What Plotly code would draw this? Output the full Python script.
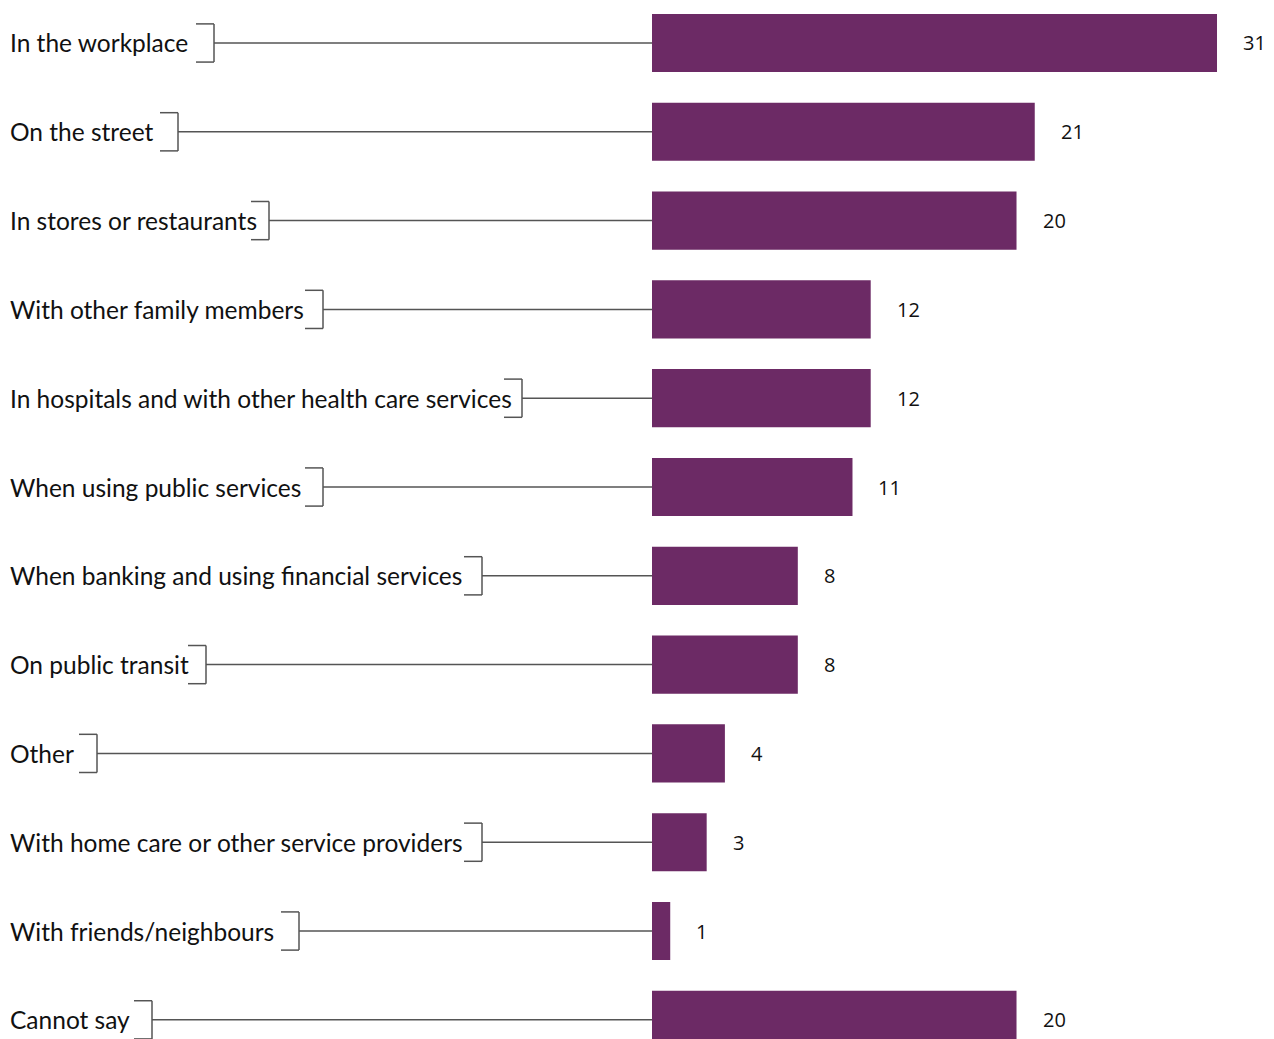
import plotly.graph_objects as go

categories = [
    "In the workplace",
    "On the street",
    "In stores or restaurants",
    "With other family members",
    "In hospitals and with other health care services",
    "When using public services",
    "When banking and using financial services",
    "On public transit",
    "Other",
    "With home care or other service providers",
    "With friends/neighbours",
    "Cannot say",
]
values = [31, 21, 20, 12, 12, 11, 8, 8, 4, 3, 1, 20]
value_labels = ["31", "21", "20", "12", "12", "11", "8", "8", "4", "3", "1", "20"]

# layout / styling constants (pixels)
W, H = 1274, 1039
LEFT = 652
PX_PER_UNIT = 18.226
BAR_COLOR = "#6C2A65"
LINE_COLOR = "#555555"
bracket_px = [214, 178, 269, 323, 522, 323, 482, 206, 97, 482, 299, 152]
BR_W = 18
BR_HALF = 0.215  # half height of bracket in category units

plot_w = W - LEFT
xmax = plot_w / PX_PER_UNIT
y_top = -0.484
y_bot = 11.216


def px2paper(px):
    return (px - LEFT) / plot_w


fig = go.Figure()
fig.add_trace(go.Bar(
    x=values, y=categories, orientation="h",
    marker=dict(color=BAR_COLOR, line=dict(width=0)),
    width=0.655, hoverinfo="skip",
))

shapes = []
annotations = []
for i, (cat, bx) in enumerate(zip(categories, bracket_px)):
    line = dict(color=LINE_COLOR, width=1.5)
    common = dict(type="line", xref="paper", yref="y", line=line, layer="below")
    # leader line
    shapes.append(dict(common, x0=px2paper(bx), x1=0, y0=i, y1=i))
    # bracket vertical
    shapes.append(dict(common, x0=px2paper(bx), x1=px2paper(bx), y0=i - BR_HALF, y1=i + BR_HALF))
    # top and bottom
    shapes.append(dict(common, x0=px2paper(bx - BR_W), x1=px2paper(bx), y0=i - BR_HALF, y1=i - BR_HALF))
    shapes.append(dict(common, x0=px2paper(bx - BR_W), x1=px2paper(bx), y0=i + BR_HALF, y1=i + BR_HALF))
    annotations.append(dict(
        x=px2paper(8), xref="paper", y=cat, yref="y", text=cat,
        xanchor="left", yanchor="middle", showarrow=False,
        font=dict(family="Lato", size=24.5, color="#111111"),
    ))
    annotations.append(dict(
        x=values[i], xref="x", y=cat, yref="y", text=value_labels[i],
        xanchor="left", yanchor="middle", showarrow=False, xshift=24,
        font=dict(family="Open Sans", size=20, color="#111111"),
    ))

fig.update_layout(
    width=W, height=H,
    margin=dict(l=LEFT, r=0, t=0, b=0),
    paper_bgcolor="white", plot_bgcolor="white",
    showlegend=False,
    xaxis=dict(range=[0, xmax], visible=False, fixedrange=True),
    yaxis=dict(type="category", categoryorder="array", categoryarray=categories,
               range=[y_bot, y_top], visible=False, fixedrange=True),
    shapes=shapes, annotations=annotations,
)

fig.write_html(
    "out.html",
    config={"displayModeBar": False},
    post_script="document.body.style.margin='0px';document.body.style.overflow='hidden';",
)
